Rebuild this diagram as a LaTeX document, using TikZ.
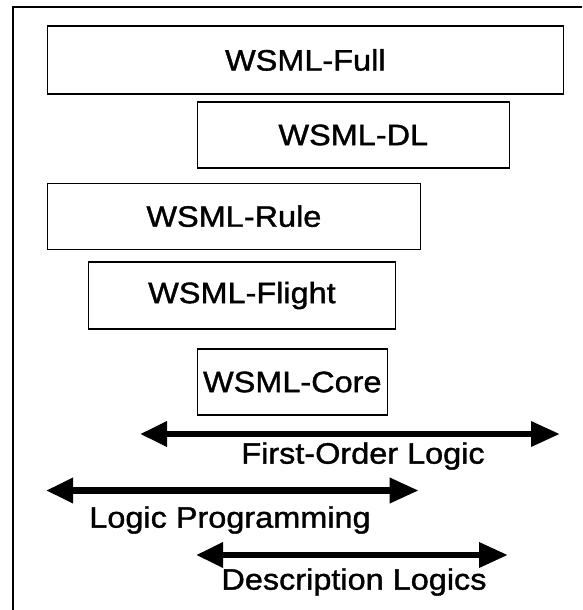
\documentclass[tikz,border=0pt]{standalone}
\usepackage{fontspec}
\setmainfont{Liberation Sans}[FakeStretch=1.1, FakeBold=1.3]
\usetikzlibrary{arrows.meta}

\tikzset{
  langbox/.style={draw, line width=1.4pt, inner sep=0pt, font=\fontsize{29.5}{34}\selectfont},
  logicarrow/.style={line width=6.5pt, {Triangle[length=27pt,width=24pt]}-{Triangle[length=29pt,width=24pt]}},
  logiclabel/.style={inner sep=0pt, font=\fontsize{29.5}{34}\selectfont}
}

\begin{document}
\begin{tikzpicture}[x=1pt, y=-1pt]
\useasboundingbox (0,0) rectangle (582,610);
\draw [line width=1.8pt] (12.7,610) -- (12.7,7.3) -- (582,7.3);
% language boxes
\node[langbox, minimum width=516pt, minimum height=68pt] (full) at (305.3,60) {WSML-Full};
\node[langbox, minimum width=312pt, minimum height=66pt] (dl) at (353.3,135) {WSML-DL};
\node[langbox, minimum width=373pt, minimum height=66pt] (rule) at (233.9,216.2) {WSML-Rule};
\node[langbox, minimum width=307pt, minimum height=67pt] (flight) at (242,295.5) {WSML-Flight};
\node[langbox, minimum width=190pt, minimum height=66pt] (core) at (292.3,382) {WSML-Core};
% logic ranges
\coordinate (fol-l) at (140,434);
\coordinate (fol-r) at (560,434);
\coordinate (lp-l) at (46,490.5);
\coordinate (lp-r) at (418.7,490.5);
\coordinate (dlg-l) at (196,555);
\coordinate (dlg-r) at (508,555);
\draw [logicarrow] (fol-l) -- (fol-r);
\draw [logicarrow] (lp-l) -- (lp-r);
\draw [logicarrow] (dlg-l) -- (dlg-r);
\node[logiclabel] (fol) at (363,456) {First-Order Logic};
\node[logiclabel] (lp) at (230,520) {Logic Programming};
\node[logiclabel] (dlg) at (354,582) {Description Logics};
\end{tikzpicture}
\end{document}
